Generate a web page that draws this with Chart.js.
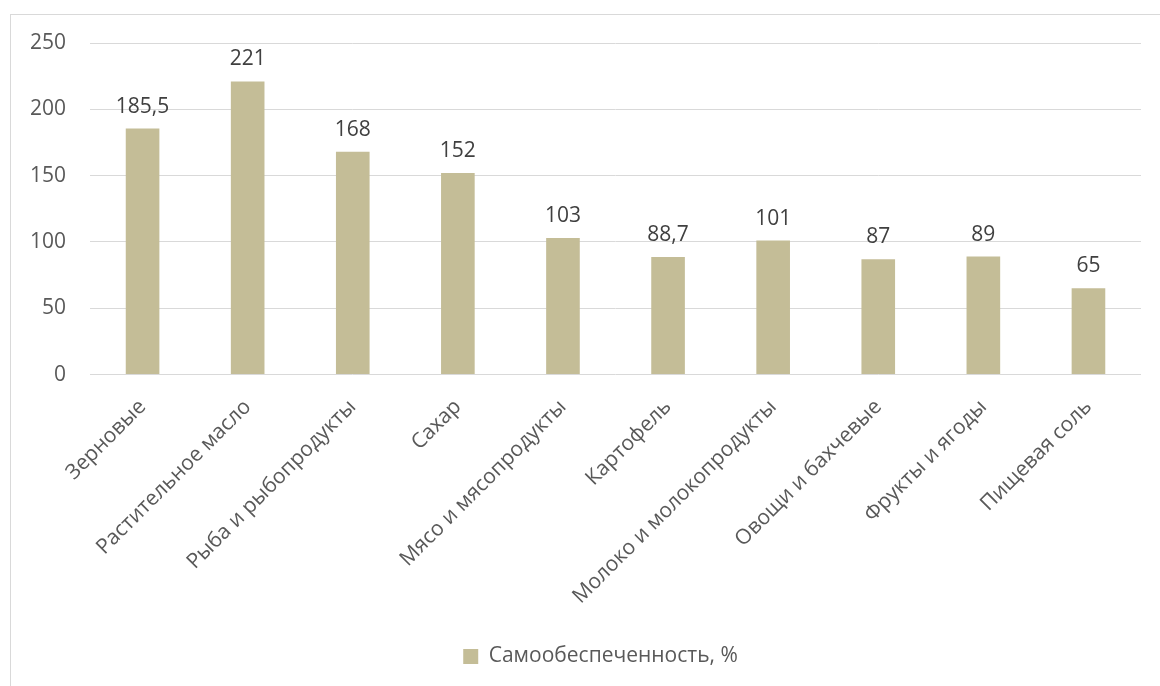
<!DOCTYPE html>
<html lang="ru">
<head>
    <meta charset="UTF-8">
    <title>Самообеспеченность</title>
    <script src="https://cdn.jsdelivr.net/npm/chart.js"></script>
    <style>
        body { margin: 0; background: #fff; }
        .frame {
            position: absolute;
            left: 10px;
            top: 14px;
            width: 1150px;
            height: 672px;
            border-left: 1px solid #d9d9d9;
            border-top: 1px solid #d9d9d9;
        }
    </style>
</head>
<body>
    <div class="frame">
        <canvas id="selfChart" width="1149" height="671"></canvas>
    </div>

    <script>
        const categories = ['Зерновые', 'Растительное масло', 'Рыба и рыбопродукты', 'Сахар',
            'Мясо и мясопродукты', 'Картофель', 'Молоко и молокопродукты', 'Овощи и бахчевые',
            'Фрукты и ягоды', 'Пищевая соль'];
        const values = [185.5, 221, 168, 152, 103, 88.7, 101, 87, 89, 65];
        const yTicks = [0, 50, 100, 150, 200, 250];

        const fontFamily = '"Open Sans", "Noto Sans", sans-serif';

        // подписи значений над столбцами (с запятой вместо точки)
        const valueLabels = {
            id: 'valueLabels',
            afterDatasetsDraw(chart) {
                const ctx = chart.ctx;
                const meta = chart.getDatasetMeta(0);
                ctx.save();
                ctx.font = '21px ' + fontFamily;
                ctx.fillStyle = '#404040';
                ctx.textAlign = 'center';
                ctx.textBaseline = 'alphabetic';
                meta.data.forEach((bar, i) => {
                    ctx.fillText(String(values[i]).replace('.', ','), bar.x, bar.y - 16);
                });
                ctx.restore();
            }
        };

        // легенда чуть правее центра холста
        const legendShift = {
            id: 'legendShift',
            afterLayout(chart) {
                chart.legend.left += 27;
                chart.legend.right += 27;
            }
        };

        new Chart(document.getElementById('selfChart').getContext('2d'), {
            type: 'bar',
            data: {
                labels: categories,
                datasets: [{
                    label: 'Самообеспеченность, %',
                    data: values,
                    backgroundColor: '#c4bd97',
                    categoryPercentage: 1,
                    barPercentage: 0.32
                }]
            },
            options: {
                responsive: false,
                animation: false,
                layout: { padding: { top: 28, right: 19, left: -5, bottom: 9 } },
                plugins: {
                    legend: {
                        position: 'bottom',
                        labels: {
                            color: '#595959',
                            font: { family: fontFamily, size: 21 },
                            boxWidth: 15,
                            boxHeight: 15,
                            padding: 25
                        }
                    },
                    tooltip: { enabled: false }
                },
                scales: {
                    y: {
                        min: 0,
                        max: 250,
                        afterBuildTicks(axis) {
                            axis.ticks = yTicks.map(v => ({ value: v }));
                        },
                        // отступ подписей не должен сдвигать верх области графика
                        afterFit(axis) {
                            axis.paddingTop = 0;
                            axis.paddingBottom = 0;
                        },
                        border: { display: false },
                        grid: { color: '#d9d9d9', lineWidth: 1, drawTicks: false },
                        ticks: {
                            color: '#595959',
                            font: { family: fontFamily, size: 21 },
                            padding: 24
                        }
                    },
                    x: {
                        border: { display: false },
                        grid: { display: false },
                        ticks: {
                            color: '#595959',
                            font: { family: fontFamily, size: 21 },
                            maxRotation: 45,
                            minRotation: 45,
                            autoSkip: false,
                            padding: 12
                        }
                    }
                }
            },
            plugins: [valueLabels, legendShift]
        });
    </script>
</body>
</html>
